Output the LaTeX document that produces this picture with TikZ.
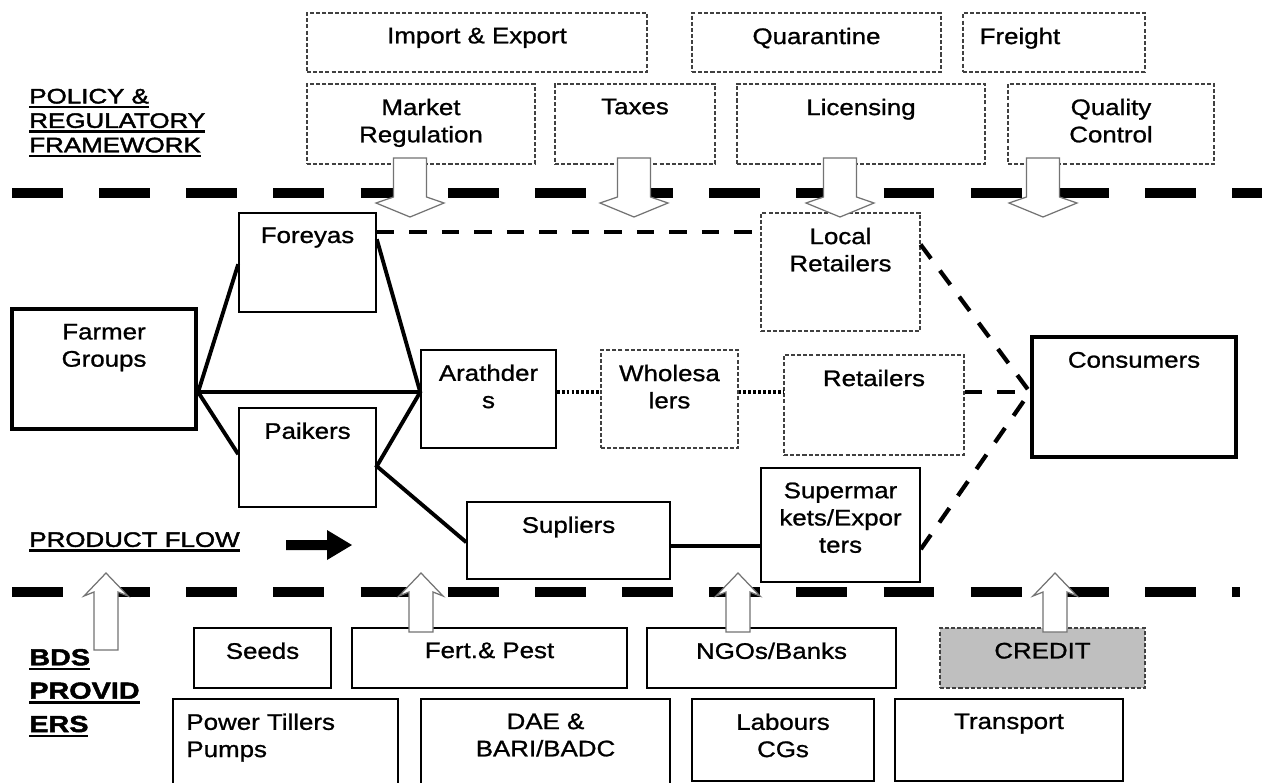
\documentclass[tikz,border=0pt]{standalone}
\usepackage{fontspec}
\setmainfont{Liberation Sans}[FakeStretch=1.15, FakeBold=1]
\newfontfamily\headfam{Liberation Sans}[FakeStretch=1.24, FakeBold=2]
\usetikzlibrary{positioning,fit,calc}
\newcommand{\boxfont}{\fontsize{12.8pt}{15.5pt}\selectfont}
\newcommand{\headfont}{\headfam\fontsize{11.9pt}{13.9pt}\selectfont}
\newcommand{\bdsfont}{\headfam\fontsize{13.2pt}{19pt}\selectfont\bfseries}
\newcommand{\undl}[1]{\setbox0=\hbox{#1}\leavevmode\rlap{\rule[-2.8pt]{\wd0}{1.3pt}}\box0}

\begin{document}
\begin{tikzpicture}[x=0.2mm, y=-0.2mm,
    every node/.style={font=\boxfont},
    solidbox/.style={draw=black, fill=white, line width=0.9pt, inner sep=0pt},
    thickbox/.style={draw=black, fill=white, line width=2.4pt, inner sep=0pt},
    policybox/.style={draw=black!75, line width=0.6pt, dash pattern=on 2.3pt off 1.2pt, inner sep=0pt},
    lbl/.style={anchor=north, inner sep=0pt, yshift=-8.5pt, align=center, font=\boxfont},
    heading/.style={anchor=west, inner sep=0pt, align=left, font=\headfont},
    flow/.style={line width=2.2pt},
    weakflow/.style={line width=2.4pt, dash pattern=on 10pt off 8.5pt},
    dotflow/.style={line width=2pt, dash pattern=on 1.6pt off 1.2pt},
    divider/.style={line width=6.2pt, dash pattern=on 28.9pt off 20.7pt},
    hollow/.style={draw=black!55, fill=white, line width=0.7pt}]
	\useasboundingbox (0,0) rectangle (1262,782);
	\clip (0,0) rectangle (1262,782);
	\fill[white] (0,0) rectangle (1262,782);

	% dividers between the three layers
	\draw[divider] (12,193) -- (1262,193);
	\draw[divider] (12,592) -- (1240,592);

	% policy & regulatory framework
	\node[heading] (policy) at (29,123) {\undl{POLICY \&}\\\undl{REGULATORY}\\\undl{FRAMEWORK}};
	\node[policybox, fit={(307,13) (647,72)}, label={[lbl]north:{Import \& Export}}] (impexp) {};
	\node[policybox, fit={(692,13) (941,72)}, label={[lbl]north:{Quarantine}}] (quarantine) {};
	\node[policybox, fit={(963,13) (1145,72)}, label={[lbl, anchor=north west, xshift=9.6pt]north west:{Freight}}] (freight) {};
	\node[policybox, fit={(307,84) (535,164)}, label={[lbl]north:{Market\\Regulation}}] (marketreg) {};
	\node[policybox, fit={(555,84) (715,164)}, label={[lbl]north:{Taxes}}] (taxes) {};
	\node[policybox, fit={(737,84) (985,164)}, label={[lbl]north:{Licensing}}] (licensing) {};
	\node[policybox, fit={(1008,84) (1214,164)}, label={[lbl]north:{Quality\\Control}}] (quality) {};

	% market chain
	\node[thickbox, fit={(12,309) (196,429)}, label={[lbl, yshift=-1pt]north:{Farmer\\Groups}}] (farmer) {};
	\node[solidbox, fit={(239,213) (376,312)}, label={[lbl]north:{Foreyas}}] (foreyas) {};
	\node[solidbox, fit={(239,408) (376,507)}, label={[lbl]north:{Paikers}}] (paikers) {};
	\node[solidbox, fit={(421,350) (556,448)}, label={[lbl]north:{Arathder\\s}}] (arath) {};
	\node[policybox, fit={(601,350) (738,448)}, label={[lbl]north:{Wholesa\\lers}}] (whole) {};
	\node[policybox, fit={(784,355) (964,455)}, label={[lbl]north:{Retailers}}] (retail) {};
	\node[policybox, fit={(761,213) (920,331)}, label={[lbl]north:{Local\\Retailers}}] (local) {};
	\node[thickbox, fit={(1032,337) (1236,457)}, label={[lbl, yshift=-1pt]north:{Consumers}}] (consumers) {};
	\node[solidbox, fit={(467,502) (670,579)}, label={[lbl]north:{Supliers}}] (supliers) {};
	\node[solidbox, fit={(761,468) (920,582)}, label={[lbl]north:{Supermar\\kets/Expor\\ters}}] (supermkt) {};

	\coordinate (jl) at ($(farmer.south east)+(0,-39)$);
	\draw[flow] ($(foreyas.north west)+(0,52)$) -- (jl) -- ($(paikers.north west)+(0,47)$);
	\draw[flow] (jl) -- (jl -| arath.west) coordinate (jr);
	\draw[flow] ($(foreyas.north east)+(0,27)$) -- (jr) -- ($(paikers.north east)+(0,59)$) -- ($(supliers.north west)+(0,41)$);
	\draw[flow] ($(supliers.north east)+(0,45)$) coordinate (sx) -- (sx -| supermkt.west);
	\draw[dotflow] (jr -| arath.east) -- (jr -| whole.west);
	\draw[dotflow] (jr -| whole.east) -- (jr -| retail.west);
	\coordinate (cj) at (jr -| consumers.west);
	\draw[weakflow] ($(foreyas.north east)+(0,20)$) coordinate (fx) -- (fx -| local.west);
	\draw[weakflow] (jr -| retail.east) -- (cj);
	\draw[weakflow] ($(local.north east)+(0,32)$) -- (cj);
	\draw[weakflow] ($(supermkt.north east)+(0,82)$) -- (cj);

	\node[heading] (pflow) at (29,542) {\undl{PRODUCT FLOW}};
	\fill (286,540) -- (327,540) -- (327,530) -- (352,545) -- (327,560) -- (327,550) -- (286,550) -- cycle;

	% BDS providers
	\node[heading, font=\bdsfont] (bds) at (29,693) {\undl{BDS}\\\undl{PROVID}\\\undl{ERS}};
	\node[solidbox, fit={(194,628) (331,688)}, label={[lbl]north:{Seeds}}] (seeds) {};
	\node[solidbox, fit={(352,628) (627,688)}, label={[lbl]north:{Fert.\& Pest}}] (fert) {};
	\node[solidbox, fit={(647,628) (896,688)}, label={[lbl]north:{NGOs/Banks}}] (ngos) {};
	\node[policybox, fill=black!25, fit={(940,628) (1145,688)}, label={[lbl]north:{CREDIT}}] (credit) {};
	\node[solidbox, fit={(173,699) (398,800)}, label={[lbl, anchor=north west, align=left, xshift=7.9pt]north west:{Power Tillers\\Pumps}}] (tillers) {};
	\node[solidbox, fit={(421,699) (670,800)}, label={[lbl]north:{DAE \&\\BARI/BADC}}] (dae) {};
	\node[solidbox, fit={(692,699) (874,781)}, label={[lbl]north:{Labours\\CGs}}] (labours) {};
	\node[solidbox, fit={(895,699) (1123,781)}, label={[lbl]north:{Transport}}] (transport) {};

	% hollow arrows across the dividers
	\foreach \cx in {410,634,840,1043}
		\draw[hollow] (\cx-16.5,158) -- (\cx+16.5,158) -- (\cx+16.5,197) -- (\cx+34,203) -- (\cx,217) -- (\cx-34,203) -- (\cx-16.5,197) -- cycle;
	\foreach \cx/\yb in {106/650,421/632,738/632,1055/632}
		\draw[hollow] (\cx-12,\yb) -- (\cx-12,592) -- (\cx-22,596) -- (\cx,573) -- (\cx+22,596) -- (\cx+12,592) -- (\cx+12,\yb) -- cycle;
\end{tikzpicture}
\end{document}
